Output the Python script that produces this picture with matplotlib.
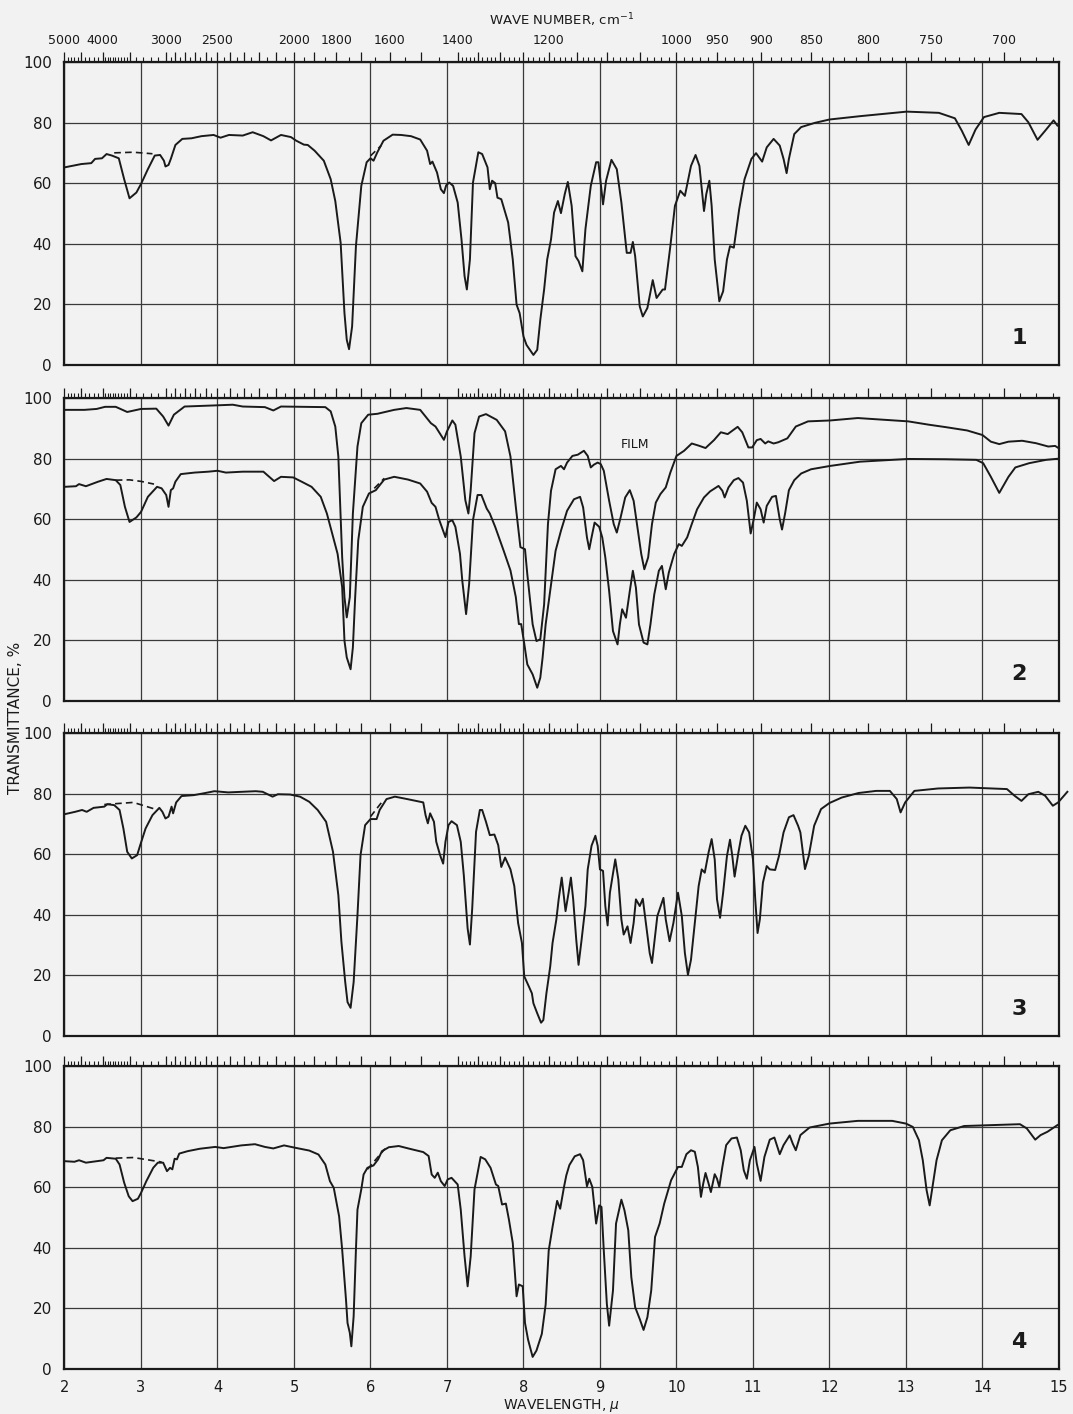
import numpy as np
import matplotlib
matplotlib.use("Agg")
import matplotlib.pyplot as plt

# Spectra: (wavelength in microns, transmittance %)
spec1 = [(2.0, 65.2), (2.22, 66.3), (2.35, 66.6), (2.40, 68.0), (2.49, 68.2), (2.55, 69.6),
         (2.62, 69.1), (2.71, 68.2), (2.78, 61.3), (2.85, 55.0), (2.94, 56.9), (3.00, 59.7),
         (3.09, 64.6), (3.18, 69.1), (3.25, 69.3), (3.30, 67.4), (3.32, 65.5), (3.36, 66.0),
         (3.39, 68.0), (3.45, 72.6), (3.54, 74.6), (3.66, 74.8), (3.79, 75.5), (3.95, 75.9),
         (4.04, 75.0), (4.15, 75.9), (4.33, 75.7), (4.46, 76.8), (4.60, 75.5), (4.70, 74.1),
         (4.83, 75.9), (4.96, 75.2), (5.03, 74.0), (5.13, 72.7), (5.18, 72.6), (5.27, 70.7),
         (5.39, 67.4), (5.48, 61.3), (5.54, 54.1), (5.61, 40.3), (5.66, 17.1), (5.69, 8.3),
         (5.72, 5.2), (5.76, 12.7), (5.81, 39.2), (5.88, 59.1), (5.95, 66.9), (6.00, 68.2),
         (6.04, 67.4), (6.09, 70.2), (6.17, 74.0), (6.29, 76.0), (6.40, 75.9), (6.53, 75.5),
         (6.65, 74.4), (6.74, 70.7), (6.78, 66.3), (6.81, 67.1), (6.87, 63.5), (6.92, 58.0),
         (6.96, 56.7), (6.99, 59.3), (7.03, 60.2), (7.08, 59.1), (7.14, 53.6), (7.19, 41.4),
         (7.23, 29.3), (7.26, 24.9), (7.30, 34.8), (7.34, 60.2), (7.41, 70.2), (7.46, 69.6),
         (7.53, 65.2), (7.56, 58.0), (7.59, 60.8), (7.63, 60.0), (7.66, 55.2), (7.71, 54.7),
         (7.80, 47.0), (7.86, 34.8), (7.91, 19.9), (7.95, 17.1), (8.00, 9.4), (8.04, 6.6),
         (8.13, 3.3), (8.18, 5.0), (8.22, 14.9), (8.27, 24.9), (8.31, 34.8), (8.36, 41.4),
         (8.40, 50.3), (8.45, 54.1), (8.49, 50.1), (8.54, 56.4), (8.58, 60.4), (8.63, 52.5),
         (8.68, 35.9), (8.72, 34.3), (8.77, 30.9), (8.81, 44.8), (8.88, 59.1), (8.95, 66.9),
         (8.98, 66.9), (9.04, 53.0), (9.08, 60.8), (9.15, 67.7), (9.22, 64.6), (9.28, 53.6),
         (9.35, 37.0), (9.40, 37.0), (9.43, 40.6), (9.46, 35.9), (9.52, 19.3), (9.56, 16.0),
         (9.62, 18.8), (9.69, 28.0), (9.74, 22.1), (9.82, 24.9), (9.85, 24.9), (9.92, 39.2),
         (9.98, 52.5), (10.05, 57.5), (10.11, 55.8), (10.19, 65.7), (10.25, 69.3), (10.30, 65.7),
         (10.36, 50.8), (10.39, 56.4), (10.43, 60.8), (10.46, 52.5), (10.50, 34.8), (10.56, 21.0),
         (10.61, 24.3), (10.66, 34.8), (10.70, 39.2), (10.75, 38.7), (10.82, 51.4), (10.89, 61.3),
         (10.98, 68.0), (11.04, 69.9), (11.12, 67.1), (11.18, 71.8), (11.27, 74.6), (11.35, 72.4),
         (11.40, 68.0), (11.44, 63.3), (11.47, 68.0), (11.54, 76.2), (11.63, 78.5), (11.81, 79.9),
         (12.00, 81.0), (12.40, 82.1), (13.01, 83.6), (13.43, 83.2), (13.64, 81.4), (13.73, 77.3),
         (13.82, 72.6), (13.91, 77.7), (14.02, 81.8), (14.22, 83.2), (14.51, 82.8), (14.60, 80.1),
         (14.72, 74.3), (14.82, 77.3), (14.93, 80.7), (14.98, 79.0)]
dash1 = [[(2.65, 70.0), (2.9, 70.2), (3.15, 69.7)], [(6.0, 69.0), (6.14, 72.4)]]

spec2_film = [(2.0, 96.1), (2.26, 96.1), (2.42, 96.4), (2.53, 97.1), (2.67, 97.1), (2.82, 95.4),
              (3.0, 96.4), (3.2, 96.5), (3.29, 93.9), (3.36, 90.9), (3.43, 94.5), (3.57, 97.2),
              (4.0, 97.6), (4.2, 97.8), (4.33, 97.2), (4.62, 97.0), (4.73, 95.9), (4.83, 97.2),
              (5.41, 97.0), (5.48, 95.6), (5.54, 90.6), (5.58, 80.7), (5.63, 47.5), (5.66, 34.3),
              (5.69, 27.6), (5.73, 34.3), (5.77, 61.9), (5.83, 84.0), (5.88, 91.7), (5.97, 94.5),
              (6.09, 94.8), (6.31, 96.1), (6.47, 96.7), (6.65, 96.1), (6.72, 93.9), (6.79, 91.7),
              (6.85, 90.6), (6.96, 86.2), (7.0, 89.0), (7.07, 92.6), (7.11, 91.2), (7.18, 80.7),
              (7.24, 66.3), (7.28, 61.9), (7.31, 69.6), (7.36, 88.4), (7.42, 93.9), (7.51, 94.7),
              (7.65, 92.8), (7.76, 89.0), (7.83, 80.7), (7.90, 64.1), (7.96, 50.8), (8.02, 50.1),
              (8.05, 41.9), (8.12, 25.3), (8.17, 19.8), (8.22, 20.4), (8.27, 31.9), (8.32, 58.4),
              (8.36, 69.4), (8.42, 76.5), (8.49, 77.6), (8.53, 76.5), (8.57, 78.7), (8.64, 80.9),
              (8.71, 81.3), (8.79, 82.6), (8.84, 80.9), (8.88, 77.1), (8.92, 78.0), (8.97, 78.7),
              (9.01, 78.2), (9.05, 76.0), (9.12, 66.1), (9.18, 58.4), (9.22, 55.6), (9.27, 60.6),
              (9.33, 67.2), (9.39, 69.6), (9.44, 66.1), (9.49, 57.3), (9.54, 48.5), (9.58, 43.5),
              (9.63, 47.4), (9.68, 58.4), (9.73, 65.5), (9.79, 68.3), (9.86, 70.5), (9.92, 75.4),
              (10.0, 80.9), (10.10, 82.6), (10.20, 85.0), (10.29, 84.3), (10.38, 83.5), (10.49, 86.1),
              (10.58, 88.7), (10.67, 88.1), (10.74, 89.4), (10.80, 90.5), (10.86, 88.7), (10.94, 83.7),
              (10.99, 83.7), (11.05, 86.1), (11.10, 86.5), (11.16, 85.0), (11.20, 85.7), (11.27, 85.0),
              (11.33, 85.4), (11.45, 86.7), (11.56, 90.6), (11.72, 92.3), (12.01, 92.6), (12.37, 93.4),
              (13.03, 92.3), (13.30, 91.2), (13.52, 90.4), (13.80, 89.3), (14.0, 87.8), (14.11, 85.6),
              (14.22, 84.8), (14.34, 85.6), (14.52, 85.9), (14.70, 85.1), (14.86, 84.0), (14.95, 84.2),
              (15.0, 83.4)]

spec2 = [(2.0, 70.7), (2.15, 70.9), (2.19, 71.6), (2.28, 70.9), (2.44, 72.4), (2.55, 73.3),
         (2.67, 72.9), (2.73, 71.3), (2.79, 64.1), (2.85, 59.1), (2.94, 60.6), (3.0, 62.4),
         (3.09, 67.4), (3.21, 70.7), (3.27, 70.2), (3.33, 68.0), (3.36, 64.1), (3.39, 69.6),
         (3.42, 70.2), (3.45, 72.4), (3.52, 74.9), (3.70, 75.4), (3.88, 75.7), (4.0, 76.0),
         (4.11, 75.4), (4.33, 75.7), (4.60, 75.7), (4.74, 72.6), (4.83, 74.0), (4.99, 73.8),
         (5.10, 72.4), (5.23, 70.7), (5.35, 67.4), (5.43, 61.9), (5.50, 55.2), (5.57, 48.6),
         (5.63, 37.6), (5.66, 19.9), (5.69, 14.4), (5.74, 10.5), (5.77, 17.7), (5.80, 34.3),
         (5.84, 53.0), (5.90, 64.1), (5.98, 68.5), (6.07, 69.6), (6.11, 70.9), (6.18, 73.1),
         (6.31, 74.0), (6.49, 73.1), (6.65, 71.8), (6.74, 69.1), (6.80, 65.4), (6.85, 64.1),
         (6.90, 59.7), (6.98, 54.1), (7.02, 59.1), (7.07, 59.7), (7.11, 57.5), (7.17, 48.6),
         (7.20, 39.8), (7.25, 28.7), (7.29, 38.7), (7.34, 59.7), (7.40, 68.0), (7.45, 68.0),
         (7.52, 63.5), (7.56, 61.9), (7.63, 57.5), (7.74, 49.7), (7.83, 43.1), (7.90, 34.3),
         (7.94, 25.4), (7.97, 25.4), (8.01, 19.0), (8.05, 12.1), (8.12, 8.8), (8.18, 4.4),
         (8.22, 7.7), (8.25, 14.3), (8.29, 25.3), (8.36, 38.5), (8.42, 49.6), (8.49, 56.2),
         (8.57, 62.8), (8.66, 66.6), (8.74, 67.4), (8.78, 63.9), (8.83, 54.0), (8.86, 50.1),
         (8.89, 54.0), (8.93, 58.9), (8.99, 57.5), (9.03, 54.0), (9.07, 47.4), (9.12, 36.3),
         (9.17, 23.1), (9.23, 18.7), (9.26, 25.3), (9.29, 30.3), (9.34, 27.5), (9.39, 36.3),
         (9.43, 43.0), (9.47, 37.4), (9.51, 25.3), (9.57, 19.3), (9.62, 18.7), (9.66, 25.3),
         (9.71, 35.2), (9.77, 43.0), (9.81, 44.6), (9.86, 36.9), (9.90, 42.4), (9.97, 48.5),
         (10.03, 51.8), (10.07, 51.2), (10.14, 54.0), (10.20, 58.4), (10.27, 63.3), (10.36, 67.2),
         (10.44, 69.2), (10.55, 71.0), (10.60, 69.4), (10.63, 67.2), (10.68, 70.5), (10.75, 72.9),
         (10.81, 73.6), (10.87, 72.1), (10.92, 66.1), (10.97, 55.3), (11.01, 60.0), (11.05, 65.5),
         (11.10, 63.3), (11.14, 58.9), (11.18, 64.4), (11.25, 67.4), (11.30, 67.7), (11.35, 60.0),
         (11.38, 56.6), (11.42, 61.9), (11.47, 69.6), (11.54, 72.9), (11.63, 75.1), (11.76, 76.5),
         (12.01, 77.6), (12.40, 79.0), (13.03, 79.9), (13.52, 79.8), (13.92, 79.6), (14.01, 78.5),
         (14.11, 74.0), (14.22, 68.7), (14.34, 74.0), (14.43, 77.1), (14.61, 78.5), (14.83, 79.6),
         (15.0, 80.0)]
dash2 = [[(2.67, 72.9), (2.85, 73.0), (3.0, 72.5), (3.17, 71.6)], [(6.05, 70.2), (6.18, 73.5)]]

spec3 = [(2.0, 73.2), (2.14, 74.0), (2.23, 74.6), (2.29, 74.0), (2.38, 75.3), (2.52, 75.7),
         (2.56, 76.5), (2.65, 76.2), (2.72, 74.6), (2.77, 68.5), (2.82, 60.8), (2.88, 58.6),
         (2.95, 59.7), (2.99, 63.0), (3.06, 68.5), (3.15, 72.9), (3.24, 75.3), (3.28, 74.0),
         (3.32, 71.8), (3.36, 72.4), (3.40, 75.7), (3.42, 73.5), (3.46, 77.1), (3.53, 79.2),
         (3.69, 79.5), (3.82, 80.1), (3.96, 80.8), (4.14, 80.4), (4.32, 80.6), (4.50, 80.8),
         (4.59, 80.6), (4.72, 79.0), (4.79, 79.8), (4.95, 79.7), (5.08, 79.0), (5.20, 77.3),
         (5.31, 74.6), (5.42, 70.7), (5.51, 60.8), (5.58, 46.5), (5.62, 31.1), (5.67, 17.8),
         (5.70, 11.2), (5.74, 9.3), (5.78, 17.8), (5.83, 39.9), (5.87, 59.7), (5.93, 69.6),
         (6.0, 71.6), (6.08, 71.6), (6.12, 74.6), (6.21, 78.2), (6.32, 79.0), (6.48, 78.2),
         (6.61, 77.5), (6.69, 77.1), (6.72, 72.9), (6.75, 70.2), (6.78, 73.5), (6.83, 70.7),
         (6.86, 64.1), (6.91, 59.7), (6.95, 56.9), (6.98, 64.1), (7.02, 69.6), (7.06, 70.9),
         (7.13, 69.6), (7.18, 64.1), (7.22, 53.1), (7.27, 35.5), (7.30, 30.2), (7.33, 42.1),
         (7.38, 67.4), (7.43, 74.6), (7.46, 74.6), (7.51, 70.7), (7.56, 66.3), (7.62, 66.5),
         (7.67, 63.0), (7.71, 55.8), (7.76, 58.9), (7.83, 55.0), (7.88, 49.5), (7.93, 37.3),
         (7.98, 30.7), (8.01, 19.7), (8.07, 16.4), (8.11, 14.1), (8.13, 10.8), (8.18, 7.5),
         (8.23, 4.4), (8.26, 5.3), (8.30, 14.1), (8.35, 23.0), (8.38, 30.7), (8.43, 38.5),
         (8.46, 45.1), (8.50, 52.3), (8.55, 41.2), (8.59, 47.3), (8.62, 52.3), (8.65, 45.1),
         (8.69, 31.8), (8.72, 23.5), (8.76, 31.8), (8.81, 42.9), (8.84, 55.0), (8.89, 62.8),
         (8.94, 66.1), (8.97, 62.8), (9.00, 55.0), (9.04, 54.5), (9.07, 42.9), (9.10, 36.5),
         (9.13, 47.3), (9.20, 58.3), (9.24, 51.7), (9.28, 38.5), (9.31, 33.5), (9.36, 36.2),
         (9.40, 30.7), (9.44, 37.3), (9.47, 45.1), (9.52, 42.9), (9.56, 45.3), (9.60, 37.3),
         (9.65, 27.4), (9.68, 24.1), (9.72, 32.9), (9.75, 39.6), (9.83, 45.6), (9.86, 38.5),
         (9.91, 31.3), (9.96, 37.3), (10.02, 47.3), (10.07, 39.6), (10.11, 27.4), (10.15, 20.2),
         (10.19, 25.2), (10.24, 37.3), (10.29, 49.5), (10.33, 55.0), (10.37, 53.9), (10.42, 60.6),
         (10.46, 65.0), (10.50, 58.3), (10.53, 45.1), (10.57, 39.0), (10.61, 47.3), (10.66, 59.4),
         (10.70, 64.8), (10.73, 59.4), (10.76, 52.6), (10.81, 60.6), (10.85, 66.1), (10.90, 69.4),
         (10.95, 67.2), (11.00, 58.3), (11.03, 45.1), (11.06, 34.0), (11.09, 38.5), (11.13, 50.6),
         (11.18, 56.1), (11.22, 55.0), (11.29, 54.8), (11.34, 59.4), (11.40, 67.2), (11.47, 72.2),
         (11.53, 72.9), (11.59, 69.4), (11.62, 67.2), (11.68, 55.1), (11.73, 59.5), (11.80, 69.4),
         (11.89, 74.9), (12.0, 76.9), (12.16, 78.7), (12.38, 80.2), (12.61, 80.9), (12.79, 80.9),
         (12.88, 78.2), (12.93, 73.8), (12.99, 77.1), (13.11, 80.9), (13.42, 81.7), (13.83, 82.0),
         (14.14, 81.7), (14.32, 81.5), (14.42, 79.3), (14.51, 77.6), (14.60, 79.8), (14.73, 80.6),
         (14.82, 79.3), (14.92, 76.0), (14.99, 77.1), (15.11, 80.6)]
dash3 = [[(2.52, 76.4), (2.90, 77.1), (3.22, 74.6)], [(6.0, 72.4), (6.17, 77.9)]]

spec4 = [(2.0, 68.6), (2.13, 68.4), (2.19, 68.9), (2.28, 68.1), (2.42, 68.6), (2.51, 68.9),
         (2.55, 69.7), (2.67, 69.4), (2.72, 67.5), (2.78, 61.5), (2.84, 57.0), (2.89, 55.4),
         (2.96, 56.2), (3.0, 58.1), (3.07, 62.0), (3.16, 66.4), (3.22, 68.1), (3.29, 68.1),
         (3.32, 66.4), (3.34, 65.3), (3.38, 66.4), (3.41, 65.9), (3.44, 69.4), (3.47, 69.2),
         (3.50, 71.1), (3.61, 71.9), (3.77, 72.7), (3.97, 73.3), (4.08, 72.9), (4.31, 73.8),
         (4.49, 74.2), (4.62, 73.3), (4.73, 72.8), (4.87, 73.8), (5.02, 73.0), (5.20, 72.1),
         (5.32, 70.8), (5.41, 67.5), (5.47, 62.0), (5.52, 59.8), (5.59, 50.4), (5.63, 39.4),
         (5.68, 22.9), (5.70, 15.2), (5.73, 11.9), (5.75, 7.5), (5.78, 17.4), (5.81, 39.4),
         (5.83, 52.6), (5.88, 59.3), (5.91, 64.2), (5.96, 66.4), (6.04, 67.2), (6.10, 69.2),
         (6.15, 71.9), (6.24, 73.2), (6.37, 73.6), (6.51, 72.7), (6.69, 71.6), (6.76, 70.3),
         (6.80, 64.2), (6.84, 63.1), (6.88, 64.8), (6.92, 62.0), (6.97, 60.4), (7.01, 62.6),
         (7.06, 63.1), (7.14, 60.9), (7.18, 52.6), (7.23, 37.2), (7.27, 27.3), (7.31, 37.2),
         (7.36, 59.3), (7.44, 70.0), (7.50, 69.2), (7.57, 66.4), (7.64, 60.9), (7.67, 60.4),
         (7.72, 54.3), (7.77, 54.6), (7.81, 49.3), (7.86, 41.6), (7.91, 24.0), (7.94, 27.9),
         (7.99, 27.3), (8.02, 15.2), (8.06, 9.7), (8.12, 4.0), (8.17, 6.1), (8.24, 11.6),
         (8.29, 21.3), (8.33, 39.1), (8.38, 46.9), (8.44, 55.5), (8.48, 52.9), (8.53, 60.1),
         (8.56, 63.9), (8.60, 67.3), (8.67, 70.2), (8.74, 70.9), (8.78, 68.9), (8.83, 60.3),
         (8.86, 62.8), (8.90, 60.1), (8.95, 48.0), (8.99, 54.0), (9.02, 53.5), (9.05, 39.1),
         (9.09, 21.5), (9.12, 14.3), (9.17, 25.9), (9.21, 48.0), (9.28, 55.9), (9.32, 52.4),
         (9.37, 45.8), (9.41, 30.3), (9.46, 20.4), (9.52, 16.5), (9.57, 12.9), (9.62, 17.1),
         (9.67, 25.9), (9.72, 43.6), (9.78, 48.0), (9.84, 54.6), (9.93, 62.3), (10.02, 66.7),
         (10.07, 66.7), (10.13, 70.9), (10.19, 72.2), (10.24, 71.7), (10.28, 66.7), (10.32, 56.8),
         (10.35, 61.2), (10.38, 64.7), (10.42, 61.2), (10.45, 58.4), (10.50, 64.3), (10.53, 62.8),
         (10.56, 60.1), (10.60, 66.7), (10.65, 73.9), (10.72, 76.1), (10.79, 76.4), (10.84, 72.2),
         (10.88, 65.6), (10.92, 62.8), (10.96, 68.9), (11.02, 73.3), (11.05, 67.8), (11.10, 62.1),
         (11.15, 70.0), (11.22, 75.7), (11.28, 76.4), (11.32, 73.3), (11.35, 70.9), (11.40, 73.9),
         (11.48, 77.1), (11.52, 74.4), (11.56, 72.2), (11.62, 77.2), (11.74, 79.7), (12.0, 81.0),
         (12.37, 81.9), (12.82, 81.9), (13.0, 81.0), (13.09, 79.9), (13.17, 75.5), (13.22, 68.9),
         (13.27, 59.0), (13.31, 54.0), (13.34, 59.0), (13.40, 68.9), (13.47, 75.5), (13.58, 78.8),
         (13.76, 80.2), (14.0, 80.4), (14.49, 80.8), (14.58, 79.4), (14.69, 75.7), (14.76, 77.2),
         (14.85, 78.3), (14.98, 80.5)]
dash4 = [[(2.67, 69.6), (2.9, 69.8), (3.1, 69.0), (3.27, 68.3)], [(5.96, 65.9), (6.19, 72.7)]]

# top wave-number scale (cm-1)
wn_labels = [5000, 4000, 3000, 2500, 2000, 1800, 1600, 1400, 1200, 1000, 950, 900, 850, 800, 750, 700]
wn_tall = ([5000, 4500, 4000, 3500] + list(range(3000, 1399, -100)) +
           list(range(1350, 999, -50)) + list(range(950, 699, -50)))
wn_short = (list(range(4900, 4000, -100)) + list(range(3950, 3500, -50)) +
            list(range(3400, 3000, -100)) + list(range(2950, 1400, -100)) +
            [w for w in range(1390, 1000, -10) if w % 50] +
            [w for w in range(990, 665, -10) if w % 50])

wl_ticks = list(range(2, 16))
t_ticks = [0, 20, 40, 60, 80, 100]

bg = "#f2f2f2"
ink = "#1a1a1a"
fig = plt.figure(figsize=(10.73, 14.14), dpi=100, facecolor=bg)
plt.rcParams["font.family"] = ["DejaVu Sans"]

left, width, height = 0.0601, 0.9268, 0.2143
bottoms = [0.7419, 0.5042, 0.2673, 0.0318]
panels = [[spec1], [spec2_film, spec2], [spec3], [spec4]]
dashes = [dash1, dash2, dash3, dash4]

for i, (b, curves, dl) in enumerate(zip(bottoms, panels, dashes)):
    ax = fig.add_axes([left, b, width, height], facecolor=bg)
    ax.set_xlim(2, 15)
    ax.set_ylim(0, 100)
    ax.set_xticks(wl_ticks)
    ax.set_yticks(t_ticks)
    ax.grid(True, color="#3a3a3a", lw=0.9)
    ax.set_axisbelow(True)
    for s in ax.spines.values():
        s.set_linewidth(1.6)
        s.set_color(ink)
    ax.tick_params(axis="both", length=0, colors=ink, labelsize=11, pad=9)
    ax.set_yticklabels([str(t) for t in t_ticks])
    if i < 3:
        ax.set_xticklabels([])
    else:
        ax.set_xticklabels([str(t) for t in wl_ticks], fontsize=10.5)
        ax.tick_params(axis="x", pad=8)
        ax.set_xlabel("WAVELENGTH, $\\mu$", fontsize=10, color=ink, labelpad=1)

    for c in curves:
        xs, ys = zip(*c)
        ax.plot(xs, ys, color=ink, lw=1.4, clip_on=False, zorder=3)
    for d in dl:
        xs, ys = zip(*d)
        ax.plot(xs, ys, color=ink, lw=1.2, ls=(0, (4, 2.5)), zorder=3)

    ax.text(14.48, 9, str(i + 1), fontsize=16, fontweight="bold", color=ink,
            ha="center", va="center")
    if i == 1:
        ax.text(9.46, 84.8, "FILM", fontsize=9, color=ink, ha="center", va="center")

    top = ax.twiny()
    top.set_xlim(2, 15)
    top.set_xticks([10000 / w for w in wn_tall])
    top.set_xticks([10000 / w for w in wn_short], minor=True)
    top.tick_params(axis="x", which="major", length=7, width=0.9, colors=ink)
    top.tick_params(axis="x", which="minor", length=3.5, width=0.8, colors=ink)
    for s in top.spines.values():
        s.set_visible(False)
    if i == 0:
        top.set_xticklabels([str(w) if w in wn_labels else "" for w in wn_tall], fontsize=9)
        top.tick_params(axis="x", pad=4)
        top.set_xlabel("WAVE NUMBER, cm$^{-1}$", fontsize=9.5, color=ink, labelpad=6)
    else:
        top.set_xticklabels([])

fig.text(0.014, 0.492, "TRANSMITTANCE, %", rotation=90, fontsize=11, color=ink,
         ha="center", va="center")

fig.savefig("out.png", dpi=100, facecolor=bg)
